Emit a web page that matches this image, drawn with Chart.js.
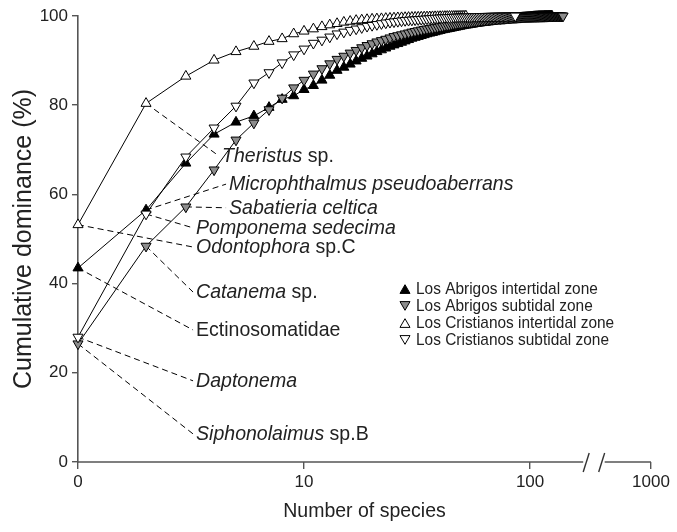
<!DOCTYPE html>
<html><head><meta charset="utf-8">
<script src="https://cdn.jsdelivr.net/npm/chart.js@4"></script>
<style>html,body{margin:0;padding:0;background:#fff}#wrap{width:677px;height:532px}</style>
</head><body><div id="wrap"><canvas id="c" width="677" height="532"></canvas></div>
<script>
const FONT = "'Liberation Sans', Arial, sans-serif";

const seriesLabels = ['Los Abrigos intertidal zone','Los Abrigos subtidal zone','Los Cristianos intertidal zone','Los Cristianos subtidal zone'];

// cumulative dominance (%) by species rank (rank 1 first)
const abrigosIntertidal = [43.5,56.5,67.0,73.5,76.2,77.6,79.5,81.3,82.1,83.5,
 84.4,85.6,86.7,87.8,88.5,89.2,89.9,90.5,91.0,91.5,
 92.0,92.4,92.8,93.2,93.5,93.8,94.1,94.4,94.7,95.0,
 95.2,95.4,95.6,95.8,96.0,96.15,96.3,96.45,96.6,96.75,
 96.9,97.0,97.1,97.2,97.3,97.4,97.5,97.6,97.7,97.8,
 97.9,97.95,98.0,98.1,98.15,98.2,98.3,98.35,98.4,98.45,
 98.5,98.55,98.6,98.65,98.7,98.75,98.8,98.85,98.9,98.95,
 99.0,99.03,99.06,99.1,99.13,99.16,99.2,99.23,99.26,99.3,
 99.33,99.36,99.39,99.42,99.45,99.48,99.5,99.53,99.56,99.58,
 99.6,99.62,99.64,99.66,99.68,99.7,99.72,99.74,99.76,99.78,
 99.8,99.82,99.83,99.85,99.86,99.88,99.89,99.9,99.91,99.92,
 99.93,99.94,99.95,99.95,99.96,99.97,99.97,99.98,99.98,99.99,
 99.99,99.99,100,100,100];
const abrigosSubtidal = [26.5,48.4,57.2,65.5,72.2,76.0,79.0,81.6,83.9,85.6,
 87.0,88.2,89.3,90.3,91.0,91.7,92.3,92.9,93.4,93.8,
 94.2,94.5,94.8,95.1,95.4,95.6,95.8,96.0,96.2,96.4,
 96.55,96.7,96.85,97.0,97.1,97.2,97.3,97.4,97.5,97.6,
 97.7,97.8,97.9,98.0,98.1,98.15,98.2,98.3,98.35,98.4,
 98.5,98.55,98.6,98.65,98.7,98.75,98.8,98.85,98.9,98.95,
 99.0,99.03,99.06,99.1,99.13,99.16,99.2,99.22,99.25,99.28,
 99.3,99.33,99.36,99.38,99.4,99.43,99.45,99.48,99.5,99.52,
 99.54,99.56,99.58,99.6,99.62,99.64,99.66,99.68,99.7,99.71,
 99.72,99.73,99.74,99.75,99.76,99.77,99.78,99.79,99.8,99.81,
 99.82,99.83,99.84,99.85,99.86,99.86,99.87,99.88,99.88,99.89,
 99.9,99.9,99.91,99.91,99.92,99.92,99.93,99.93,99.94,99.94,
 99.95,99.95,99.95,99.96,99.96,99.96,99.97,99.97,99.97,99.98,
 99.98,99.98,99.98,99.99,99.99,99.99,99.99,100,100,100];
const cristianosIntertidal = [53.2,80.4,86.5,90.1,92.0,93.2,94.3,94.9,96.0,96.6,
 97.1,97.6,98.0,98.3,98.6,98.8,99.0,99.1,99.2,99.3,
 99.35,99.4,99.45,99.5,99.55,99.6,99.62,99.65,99.68,99.7,
 99.72,99.74,99.76,99.78,99.8,99.82,99.84,99.85,99.86,99.88,
 99.89,99.9,99.91,99.92,99.93,99.94,99.95,99.96,99.97,99.98,
 99.99,100];
const cristianosSubtidal = [28.0,55.6,68.4,74.9,79.8,85.0,87.3,89.5,91.3,92.6,
 93.9,94.6,95.3,96.0,96.4,96.8,97.1,97.4,97.7,97.9,
 98.1,98.3,98.45,98.6,98.7,98.8,98.9,99.0,99.05,99.1,
 99.15,99.2,99.25,99.3,99.35,99.4,99.45,99.5,99.53,99.56,
 99.6,99.62,99.65,99.68,99.7,99.72,99.74,99.76,99.78,99.8,
 99.81,99.82,99.83,99.84,99.85,99.86,99.87,99.88,99.89,99.9,
 99.91,99.91,99.92,99.92,99.93,99.93,99.94,99.94,99.95,99.95,
 99.96,99.96,99.96,99.97,99.97,99.97,99.97,99.98,99.98,99.98,
 99.99,99.99,99.99,99.99,100,100];

const xTickValues = [1, 10, 100, 1000];
const xTickLabels = ['0', '10', '100', '1000'];
const yTickValues = [0, 20, 40, 60, 80, 100];

// axis break: log-position where the axis is cut, and compressed position of 1000
const BREAK_FROM = 2.235, BREAK_TO = 2.33, POS_1000 = 2.535;
const xPos = v => v >= 1000 ? POS_1000 : Math.log10(v);

const AXIS = '#555555';
const TEXT = '#222222';

function toPoints(arr){ return arr.map((v,i)=>({x: Math.log10(i+1), y: v})); }

const styles = [
  {fill:'#000000', rot:0},
  {fill:'#8c8c8c', rot:180},
  {fill:'#ffffff', rot:0},
  {fill:'#ffffff', rot:180}
];
const seriesData = [abrigosIntertidal, abrigosSubtidal, cristianosIntertidal, cristianosSubtidal];
const drawOrder = [2, 1, 3, 0];

const datasets = seriesData.map((arr, i) => ({
  label: seriesLabels[i],
  data: toPoints(arr),
  borderColor: '#000',
  borderWidth: 1,
  pointStyle: 'triangle',
  pointRotation: styles[i].rot,
  pointRadius: 5.8,
  pointBackgroundColor: styles[i].fill,
  pointBorderColor: '#000',
  pointBorderWidth: 1,
  fill: false,
  tension: 0,
  clip: false,
  order: drawOrder[i]
}));

// species labels: [series index, point index, anchor x (log units), anchor y (%), text parts]
const annotations = [
  [2, 1, 0.624, 68.6, [['Theristus', true], [' sp.', false]]],
  [0, 1, 0.655, 62.3, [['Microphthalmus pseudoaberrans', true]]],
  [1, 2, 0.655, 57.0, [['Sabatieria celtica', true]]],
  [3, 1, 0.509, 52.5, [['Pomponema sedecima', true]]],
  [2, 0, 0.509, 48.2, [['Odontophora', true], [' sp.C', false]]],
  [1, 1, 0.509, 38.1, [['Catanema', true], [' sp.', false]]],
  [0, 0, 0.509, 29.6, [['Ectinosomatidae', false]]],
  [3, 0, 0.509, 18.2, [['Daptonema', true]]],
  [1, 0, 0.509, 6.3, [['Siphonolaimus', true], [' sp.B', false]]]
];

const ANNOT_SIZE = 21;
const LEGEND_SIZE = 16.6;
const CONDENSE = 0.93; // narrow look of the original lettering

function drawCondensed(ctx, text, x, y) {
  ctx.save();
  ctx.translate(x, y);
  ctx.scale(CONDENSE, 1);
  ctx.fillText(text, 0, 0);
  ctx.restore();
  return ctx.measureText(text).width * CONDENSE;
}

const annotPlugin = {
  id: 'annot',
  beforeDatasetsDraw(chart) {
    const {ctx, scales: {x, y}} = chart;
    ctx.save();
    ctx.strokeStyle = '#000';
    ctx.lineWidth = 1;
    ctx.setLineDash([6, 4]);
    annotations.forEach(a => {
      const p = chart.getDatasetMeta(a[0]).data[a[1]];
      const ex = x.getPixelForValue(a[2]), ey = y.getPixelForValue(a[3]);
      ctx.beginPath();
      ctx.moveTo(p.x, p.y);
      ctx.lineTo(ex, ey);
      ctx.stroke();
    });
    ctx.restore();
  },
  afterDraw(chart) {
    const {ctx, scales: {x, y}, chartArea} = chart;
    ctx.save();
    ctx.fillStyle = TEXT;
    ctx.textBaseline = 'middle';
    ctx.textAlign = 'left';
    annotations.forEach(a => {
      let tx = x.getPixelForValue(a[2]) + 3;
      const ty = y.getPixelForValue(a[3]);
      a[4].forEach(([t, it]) => {
        ctx.font = (it ? 'italic ' : '') + ANNOT_SIZE + 'px ' + FONT;
        tx += drawCondensed(ctx, t, tx, ty);
      });
    });
    // x axis line with break
    const by = y.getPixelForValue(0);
    const b1 = x.getPixelForValue(BREAK_FROM), b2 = x.getPixelForValue(BREAK_TO);
    ctx.strokeStyle = AXIS;
    ctx.lineWidth = 1.6;
    ctx.beginPath();
    ctx.moveTo(chartArea.left, by); ctx.lineTo(b1, by);
    ctx.moveTo(b2, by); ctx.lineTo(chartArea.right, by);
    ctx.stroke();
    ctx.lineWidth = 1.4;
    ctx.strokeStyle = '#333';
    [b1 + 3, b2 - 3].forEach(bx => {
      ctx.beginPath();
      ctx.moveTo(bx - 3, by + 10);
      ctx.lineTo(bx + 3, by - 9);
      ctx.stroke();
    });
    // legend
    const lx = 405, ly0 = 289, dy = 17;
    ctx.font = LEGEND_SIZE + 'px ' + FONT;
    chart.data.datasets.forEach((ds, i) => {
      const cy = ly0 + i * dy;
      const r = 5.8;
      const up = styles[i].rot === 0;
      ctx.beginPath();
      const s = up ? 1 : -1;
      const ccy = cy + (up ? 1.5 : -1.5);
      ctx.moveTo(lx, ccy - s * r);
      ctx.lineTo(lx + r * 0.866, ccy + s * r / 2);
      ctx.lineTo(lx - r * 0.866, ccy + s * r / 2);
      ctx.closePath();
      ctx.fillStyle = styles[i].fill;
      ctx.fill();
      ctx.setLineDash([]);
      ctx.lineWidth = 1;
      ctx.strokeStyle = '#000';
      ctx.stroke();
      ctx.fillStyle = TEXT;
      drawCondensed(ctx, ds.label, lx + 11, cy);
    });
    ctx.restore();
  }
};

new Chart(document.getElementById('c'), {
  type: 'line',
  data: {datasets},
  options: {
    responsive: false,
    animation: false,
    devicePixelRatio: 1,
    layout: {padding: {top: 16, right: 26, left: 0, bottom: 0}},
    plugins: {legend: {display: false}, tooltip: {enabled: false}},
    scales: {
      x: {
        type: 'linear',
        min: 0,
        max: POS_1000,
        afterBuildTicks(scale) { scale.ticks = xTickValues.map(v => ({value: xPos(v)})); },
        afterFit(scale) { scale.height = 70; },
        ticks: {
          autoSkip: false,
          maxRotation: 0,
          padding: 3,
          color: TEXT,
          font: {family: FONT, size: 17},
          callback(v) { const i = xTickValues.findIndex(t => Math.abs(xPos(t) - v) < 1e-6); return i >= 0 ? xTickLabels[i] : ''; }
        },
        grid: {display: true, drawOnChartArea: false, drawTicks: true, tickLength: 7, color: AXIS, lineWidth: 1.4},
        border: {display: false},
        title: {display: true, text: 'Number of species', color: TEXT, font: {family: FONT, size: 19.5}, padding: {top: 0, bottom: 9}}
      },
      y: {
        type: 'linear',
        min: 0,
        max: 100,
        afterBuildTicks(scale) { scale.ticks = yTickValues.map(v => ({value: v})); },
        afterFit(scale) { scale.width = 78; },
        ticks: {color: TEXT, padding: 4, font: {family: FONT, size: 17}},
        grid: {display: true, drawOnChartArea: false, drawTicks: true, tickLength: 6, color: AXIS, lineWidth: 1.4},
        border: {display: true, color: AXIS, width: 1.6},
        title: {display: true, text: 'Cumulative dominance (%)', color: TEXT, font: {family: FONT, size: 25}, padding: {top: 9, bottom: 0}}
      }
    }
  },
  plugins: [annotPlugin]
});
</script>
</body></html>
